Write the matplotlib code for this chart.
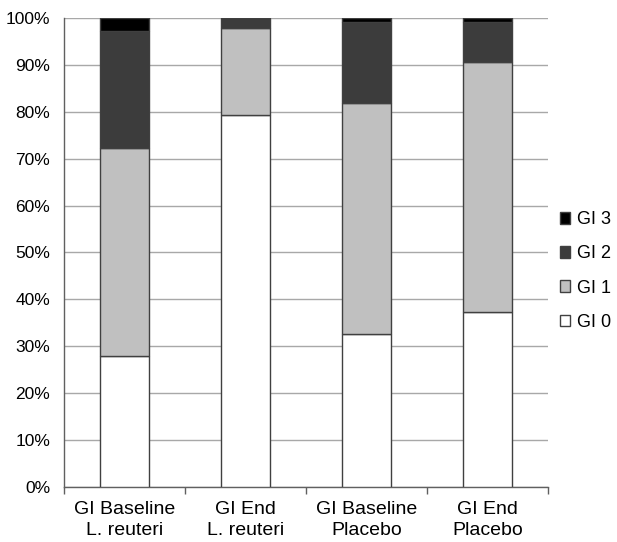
import matplotlib
matplotlib.use("Agg")
import matplotlib.pyplot as plt
from matplotlib.ticker import FixedLocator, PercentFormatter
import numpy as np

categories = ["GI Baseline\nL. reuteri", "GI End\nL. reuteri", "GI Baseline\nPlacebo", "GI End\nPlacebo"]
series_names = ["GI 0", "GI 1", "GI 2", "GI 3"]
gi0 = [27.9, 79.3, 32.7, 37.4]
gi1 = [44.3, 18.6, 49.2, 53.1]
gi2 = [25.0, 2.1, 17.3, 8.6]
gi3 = [2.8, 0.0, 0.8, 0.9]
colors = ["#ffffff", "#c0c0c0", "#3c3c3c", "#000000"]

plt.rcParams['font.family'] = ['Liberation Sans', 'DejaVu Sans']

fig = plt.figure(figsize=(6.17, 5.42), dpi=100)
ax = fig.add_axes([0.104, 0.1015, 0.784, 0.8655])

x = np.arange(len(categories))
bottom = np.zeros(len(categories))
handles = []
for vals, name, col in zip([gi0, gi1, gi2, gi3], series_names, colors):
    b = ax.bar(x, vals, width=0.4, bottom=bottom, color=col, edgecolor="#404040",
               linewidth=1.0, label=name, zorder=3)
    handles.append(b)
    bottom += np.array(vals)

ax.set_xlim(-0.5, len(categories) - 0.5)
ax.set_ylim(0, 100)
ax.yaxis.set_major_locator(FixedLocator(np.arange(0, 101, 10)))
ax.yaxis.set_major_formatter(PercentFormatter(decimals=0))
ax.yaxis.grid(True, color="#a8a8a8", linewidth=1.0, zorder=0)
ax.set_axisbelow(True)

ax.set_xticks(np.arange(-0.5, len(categories), 1.0))
ax.set_xticklabels([])
ax.set_xticks(x, minor=True)
ax.set_xticklabels(categories, minor=True, fontsize=14, linespacing=1.3)
ax.tick_params(axis='x', which='minor', length=0, pad=10)
ax.tick_params(axis='x', which='major', length=5, width=1, color="#606060", direction='out')
ax.tick_params(axis='y', length=0, labelsize=12.5, pad=10)

for s in ["top", "right"]:
    ax.spines[s].set_visible(False)
for s in ["left", "bottom"]:
    ax.spines[s].set_color("#606060")
    ax.spines[s].set_linewidth(1.0)

leg = fig.legend(handles[::-1], series_names[::-1], loc="center left",
                 bbox_to_anchor=(0.907, 0.5), frameon=False, fontsize=13,
                 handlelength=0.6, handleheight=0.6, handletextpad=0.35,
                 labelspacing=0.95, borderaxespad=0, borderpad=0)

fig.savefig("out.png", dpi=100)
